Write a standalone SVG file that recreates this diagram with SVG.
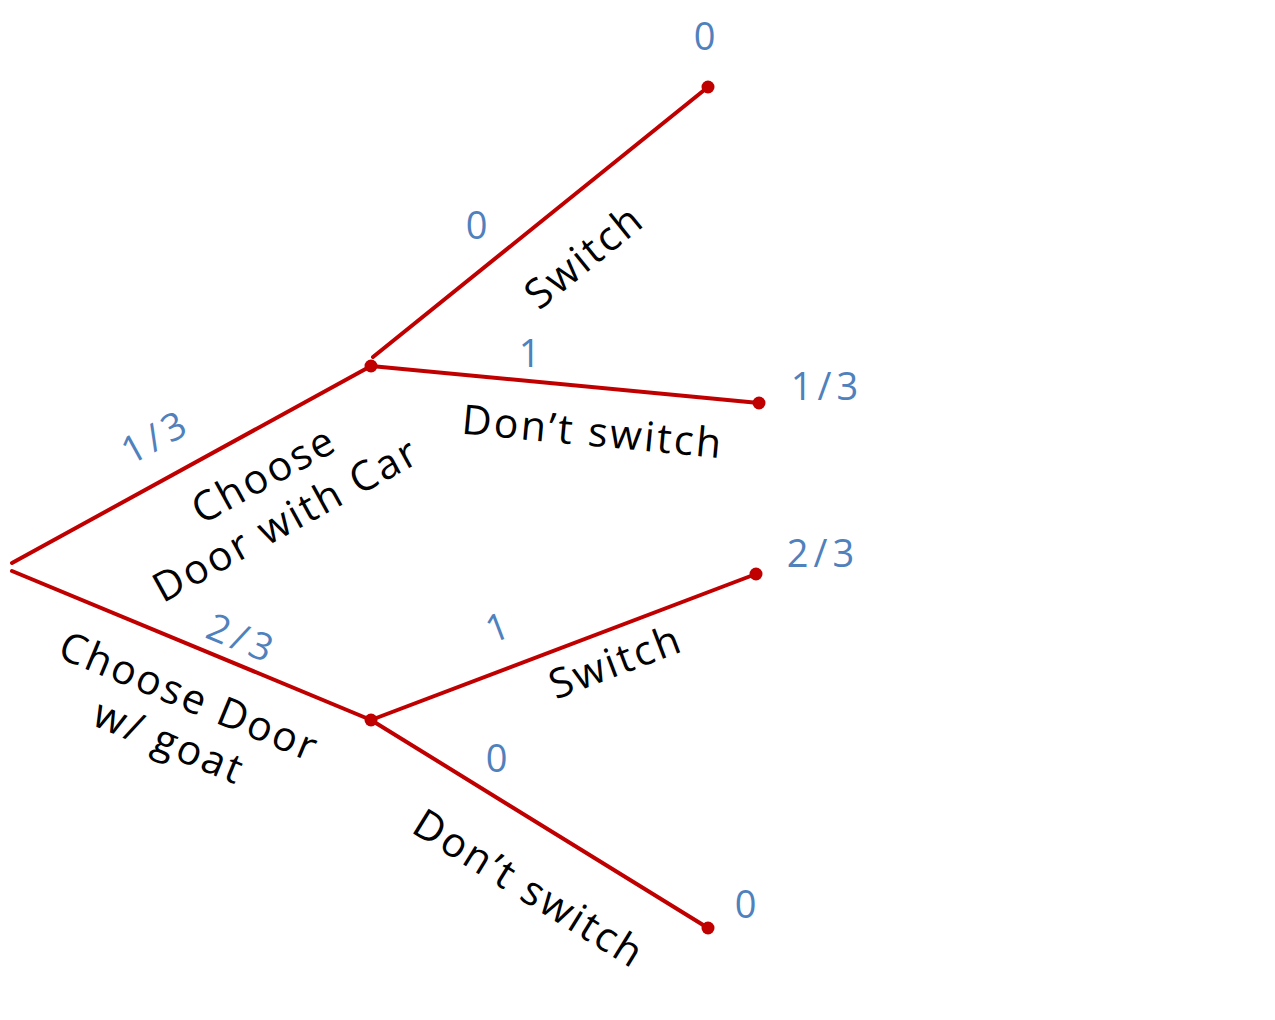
<svg xmlns="http://www.w3.org/2000/svg" width="1275" height="1020" viewBox="0 0 1275 1020">
<style>
.br{stroke:#C00000;stroke-width:4;fill:none;stroke-linecap:round}
.dot{fill:#C00000}
.lbl{font-family:"Open Sans","DejaVu Sans",sans-serif;font-size:41px;letter-spacing:2.5px;fill:#000;text-anchor:middle;dominant-baseline:central}
.p{font-family:"Open Sans","DejaVu Sans",sans-serif;font-size:38px;letter-spacing:5px;fill:#4F81BD;text-anchor:middle;dominant-baseline:central}
</style>
<rect width="1275" height="1020" fill="#fff"/>
<g id="connectors">
<line class="br" x1="12" y1="563" x2="371" y2="366"/>
<line class="br" x1="12" y1="571" x2="371" y2="720"/>
<line class="br" x1="373" y1="357" x2="708" y2="87"/>
<line class="br" x1="371" y1="366" x2="759" y2="403"/>
<line class="br" x1="371" y1="720" x2="756" y2="574"/>
<line class="br" x1="371" y1="720" x2="708" y2="928"/>
</g>
<g id="node-car"><circle class="dot" cx="371" cy="366" r="6.5"/></g>
<g id="node-goat"><circle class="dot" cx="371" cy="720" r="6.5"/></g>
<g id="leaf-1"><circle class="dot" cx="708" cy="87" r="6.5"/><text class="p" x="707" y="35">0</text></g>
<g id="leaf-2"><circle class="dot" cx="759" cy="403" r="6.5"/><text class="p" x="827" y="385">1/3</text></g>
<g id="leaf-3"><circle class="dot" cx="756" cy="574" r="6.5"/><text class="p" x="823" y="552">2/3</text></g>
<g id="leaf-4"><circle class="dot" cx="708" cy="928" r="6.5"/><text class="p" x="748" y="903">0</text></g>
<g id="labels">
<text class="lbl" transform="translate(263,473) rotate(-28.8)">Choose</text>
<text class="lbl" transform="translate(285,518) rotate(-28.8)">Door with Car</text>
<text class="p" transform="translate(155,435) rotate(-28.8)">1/3</text>
<text class="lbl" transform="translate(190,695) rotate(22.5)">Choose Door</text>
<text class="lbl" transform="translate(170,740) rotate(22.5)">w/ goat</text>
<text class="p" transform="translate(243,637) rotate(22.5)">2/3</text>
<text class="lbl" transform="translate(583,255) rotate(-38.9)">Switch</text>
<text class="p" x="479" y="224">0</text>
<text class="lbl" transform="translate(593,430) rotate(5.4)">Don’t switch</text>
<text class="p" x="532" y="352">1</text>
<text class="lbl" transform="translate(615,660) rotate(-20.8)">Switch</text>
<text class="p" transform="translate(499,625) rotate(-20.8)">1</text>
<text class="lbl" transform="translate(530,887) rotate(31.7)">Don’t switch</text>
<text class="p" x="499" y="757">0</text>
</g>
</svg>
